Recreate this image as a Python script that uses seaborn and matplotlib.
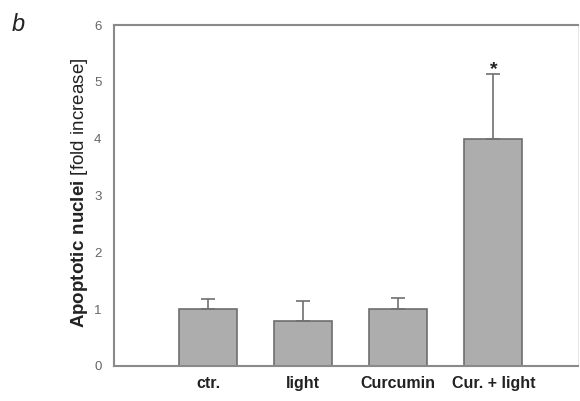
import matplotlib
matplotlib.use("Agg")
import matplotlib.pyplot as plt
import seaborn as sns
import pandas as pd
import numpy as np

categories = ["ctr.", "light", "Curcumin", "Cur. + light"]
means = [1.0, 0.80, 1.0, 4.0]
upper_err = [0.18, 0.35, 0.20, 1.14]
yticks = [0, 1, 2, 3, 4, 5, 6]

sns.set_style("white")
plt.rcParams["font.family"] = ["Liberation Sans", "DejaVu Sans"]
plt.rcParams["mathtext.fontset"] = "custom"
plt.rcParams["mathtext.bf"] = "Liberation Sans:bold"
plt.rcParams["mathtext.rm"] = "Liberation Sans"

df = pd.DataFrame({"group": categories, "value": means})

fig = plt.figure(figsize=(5.8, 4.01), dpi=100)
ax = fig.add_axes([114/580, 1-366/401, (578-114)/580, (366-25)/401])

sns.barplot(data=df, x="group", y="value", order=categories, color="#adadad",
            edgecolor="#6e6e6e", linewidth=1.2, width=0.61, errorbar=None,
            saturation=1, ax=ax)

xs = np.arange(len(categories))
ax.errorbar(xs, means, yerr=[np.zeros(len(means)), upper_err], fmt="none",
            ecolor="#707070", elinewidth=1.2, capsize=5, capthick=1.2, zorder=1)

ax.text(3, means[3] + upper_err[3] - 0.08, "*", ha="center", va="bottom",
        fontsize=14, fontweight="bold", color="#222222")

ax.set_xlim(-0.99, 3.89)
ax.set_ylim(0, 6)
ax.set_yticks(yticks)
ax.set_yticklabels([str(t) for t in yticks], fontsize=9.5, color="#666666")
ax.set_xticks(xs)
ax.set_xticklabels(categories, fontsize=11.5, fontweight="bold", color="#222222")
ax.set_xlabel("")
ax.set_ylabel("")

for s in ax.spines.values():
    s.set_visible(True)
    s.set_color("#8a8a8a")
    s.set_linewidth(1.5)
ax.spines["right"].set_linewidth(0.6)
ax.spines["right"].set_color("#e0e0e0")

ax.tick_params(axis="both", direction="out", length=4, width=1, color="#8a8a8a")
ax.tick_params(axis="x", pad=3)
ax.tick_params(axis="y", pad=5)

fig.text(80/580, 1-193/401, r"$\bf{Apoptotic\ nuclei}$ [fold increase]", rotation=90,
         ha="center", va="center", fontsize=13.5, color="#222222")
fig.text(0.032, 0.94, "b", fontsize=17, fontstyle="italic", color="#222222",
         ha="center", va="center")

fig.savefig("out.png", dpi=100)
